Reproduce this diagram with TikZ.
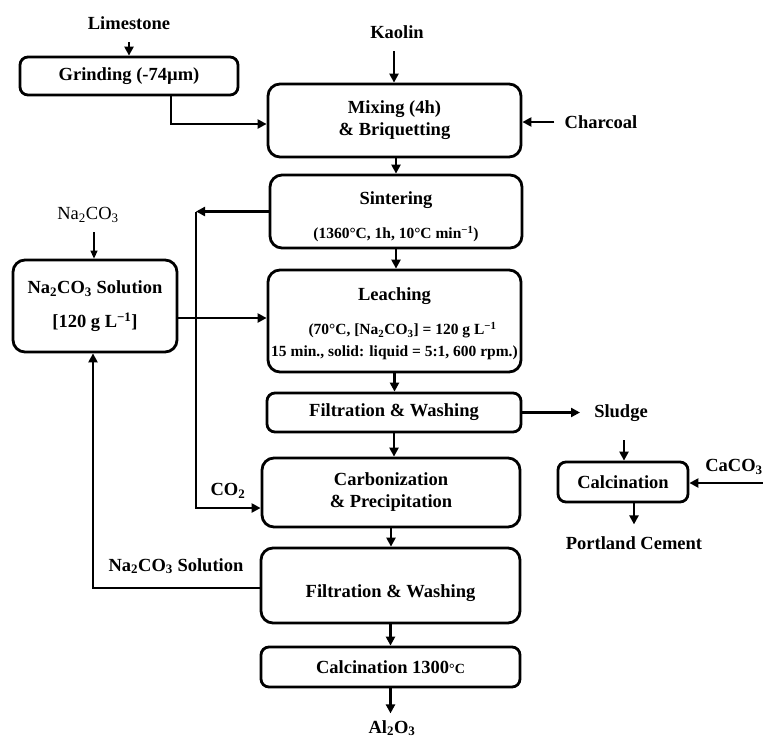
\documentclass[tikz,border=0pt]{standalone}
\usepackage{fontspec}
\setmainfont{Liberation Serif}
\usetikzlibrary{arrows.meta}
\newcommand{\pf}{\fontsize{15.5}{19}\selectfont}
\newcommand{\subs}[1]{\textsubscript{#1}}
\begin{document}
\begin{tikzpicture}[x=1pt,y=-1pt,
  box/.style={draw,line width=2.8pt,rounded corners=12pt,inner sep=0pt,align=center,
    font=\bfseries\fontsize{18.5}{22}\selectfont},
  sbox/.style={box,rounded corners=8pt},
  lbl/.style={font=\bfseries\fontsize{18.5}{22}\selectfont,inner sep=0pt},
  arr/.style={line width=2.6pt,-{Triangle[length=9pt,width=9pt]}},
  thinarr/.style={line width=1.2pt,-{Triangle[length=8pt,width=7pt]}}]
\useasboundingbox (0,0) rectangle (763,742);

% process boxes
\node[sbox,minimum width=218pt,minimum height=38pt] (grind) at (129,76) {Grinding (-74µm)};
\node[box,minimum width=253pt,minimum height=73pt] (mix) at (394.5,120.5) {Mixing (4h)\\\& Briquetting};
\node[box,minimum width=252pt,minimum height=73pt] (sint) at (396,211.5)
  {\rule{0pt}{23pt}Sintering\\[12pt]{\pf (1360°C, 1h, 10°C min\textsuperscript{−1})}};
\node[box,minimum width=164pt,minimum height=92pt] (nasol) at (95,306)
  {Na\subs{2}CO\subs{3} Solution\\[12pt][120 g L\textsuperscript{−1}]};
\node[box,minimum width=253pt,minimum height=102pt] (leach) at (394.5,321)
  {\rule{0pt}{19pt}Leaching\\[12pt]{\pf\hspace*{16pt}(70°C, [Na\subs{2}CO\subs{3}] = 120 g L\textsuperscript{−1}}\\{\pf 15 min., solid: liquid = 5:1, 600 rpm.)}};
\node[sbox,minimum width=254pt,minimum height=39pt] (filt1) at (394,412.5) {Filtration \& Washing};
\node[box,minimum width=258pt,minimum height=69pt] (carb) at (391,492.5) {Carbonization\\\& Precipitation};
\node[box,minimum width=259pt,minimum height=75pt] (filt2) at (390.5,585.5)
  {\smash{\raisebox{-12pt}{Filtration \& Washing}}};
\node[sbox,minimum width=259pt,minimum height=40pt] (calc2) at (390.5,667)
  {Calcination 1300{\fontsize{14}{14}\selectfont °C}};
\node[sbox,minimum width=130pt,minimum height=40pt] (calc) at (623,482) {Calcination};

% labels
\node[lbl] (lime) at (129,23) {Limestone};
\node[lbl] (kaolin) at (397,32) {Kaolin};
\node[lbl] (charcoal) at (601,122) {Charcoal};
\node[font=\fontsize{18.5}{22}\selectfont,inner sep=0pt] (na) at (88,215) {Na\subs{2}CO\subs{3}};
\node[lbl] (co2) at (228,491) {CO\subs{2}};
\node[lbl] (naret) at (176,566) {Na\subs{2}CO\subs{3} Solution};
\node[lbl] (sludge) at (621,413) {Sludge};
\node[lbl] (caco3) at (734,467) {CaCO\subs{3}};
\node[lbl] (portland) at (634,543) {Portland Cement};
\node[lbl] (al) at (392,728) {Al\subs{2}O\subs{3}};

% helper coordinates
\coordinate (limeA) at (129,42);
\coordinate (kaoA) at (394,51);
\coordinate (gx) at (171,0);
\coordinate (gy) at (0,124);
\coordinate (cv) at (196,0);
\coordinate (cb) at (196,508);
\coordinate (ly) at (0,318);
\coordinate (ry) at (0,588);
\coordinate (rx) at (93,0);
\coordinate (naA) at (94,232);
\coordinate (sludgeA) at (580,412.5);
\coordinate (sludgeB) at (624,440);
\coordinate (caA) at (763,483);
\coordinate (pX) at (634,0);

% connectors
\draw[arr] (limeA) -- (limeA |- grind.north);
\draw[arr] (kaoA) -- (kaoA |- mix.north);
\draw[arr] (gx |- grind.south) -- (gx |- gy) -- (gy -| mix.west);
\draw[arr] ([xshift=-10pt]charcoal.west) -- (charcoal.west -| mix.east);
\draw[arr] (mix.south -| sint.north) -- (sint.north);
\draw[arr] (sint.south) -- (sint.south |- leach.north);
\draw[arr] (leach.south) -- (leach.south |- filt1.north);
\draw[arr] (filt1.south) -- (filt1.south |- carb.north);
\draw[arr] (carb.south) -- (carb.south |- filt2.north);
\draw[arr] (filt2.south) -- (filt2.south |- calc2.north);
\draw[arr] (calc2.south) -- ++(0,25);
\draw[arr] (sint.west) -- (sint.west -| cv);
\draw[arr] (sint.west -| cv) -- (cb) -- (cb -| carb.west);
\draw[thinarr] (naA) -- (naA |- nasol.north);
\draw[arr] (ly -| nasol.east) -- (ly -| leach.west);
\draw[arr] (ry -| filt2.west) -- (ry -| rx) -- (rx |- nasol.south);
\draw[arr] (filt1.east) -- (sludgeA);
\draw[arr] (sludgeB) -- (sludgeB |- calc.north);
\draw[arr] (caA) -- (caA -| calc.east);
\draw[arr] (pX |- calc.south) -- ++(0,21);
\end{tikzpicture}
\end{document}
